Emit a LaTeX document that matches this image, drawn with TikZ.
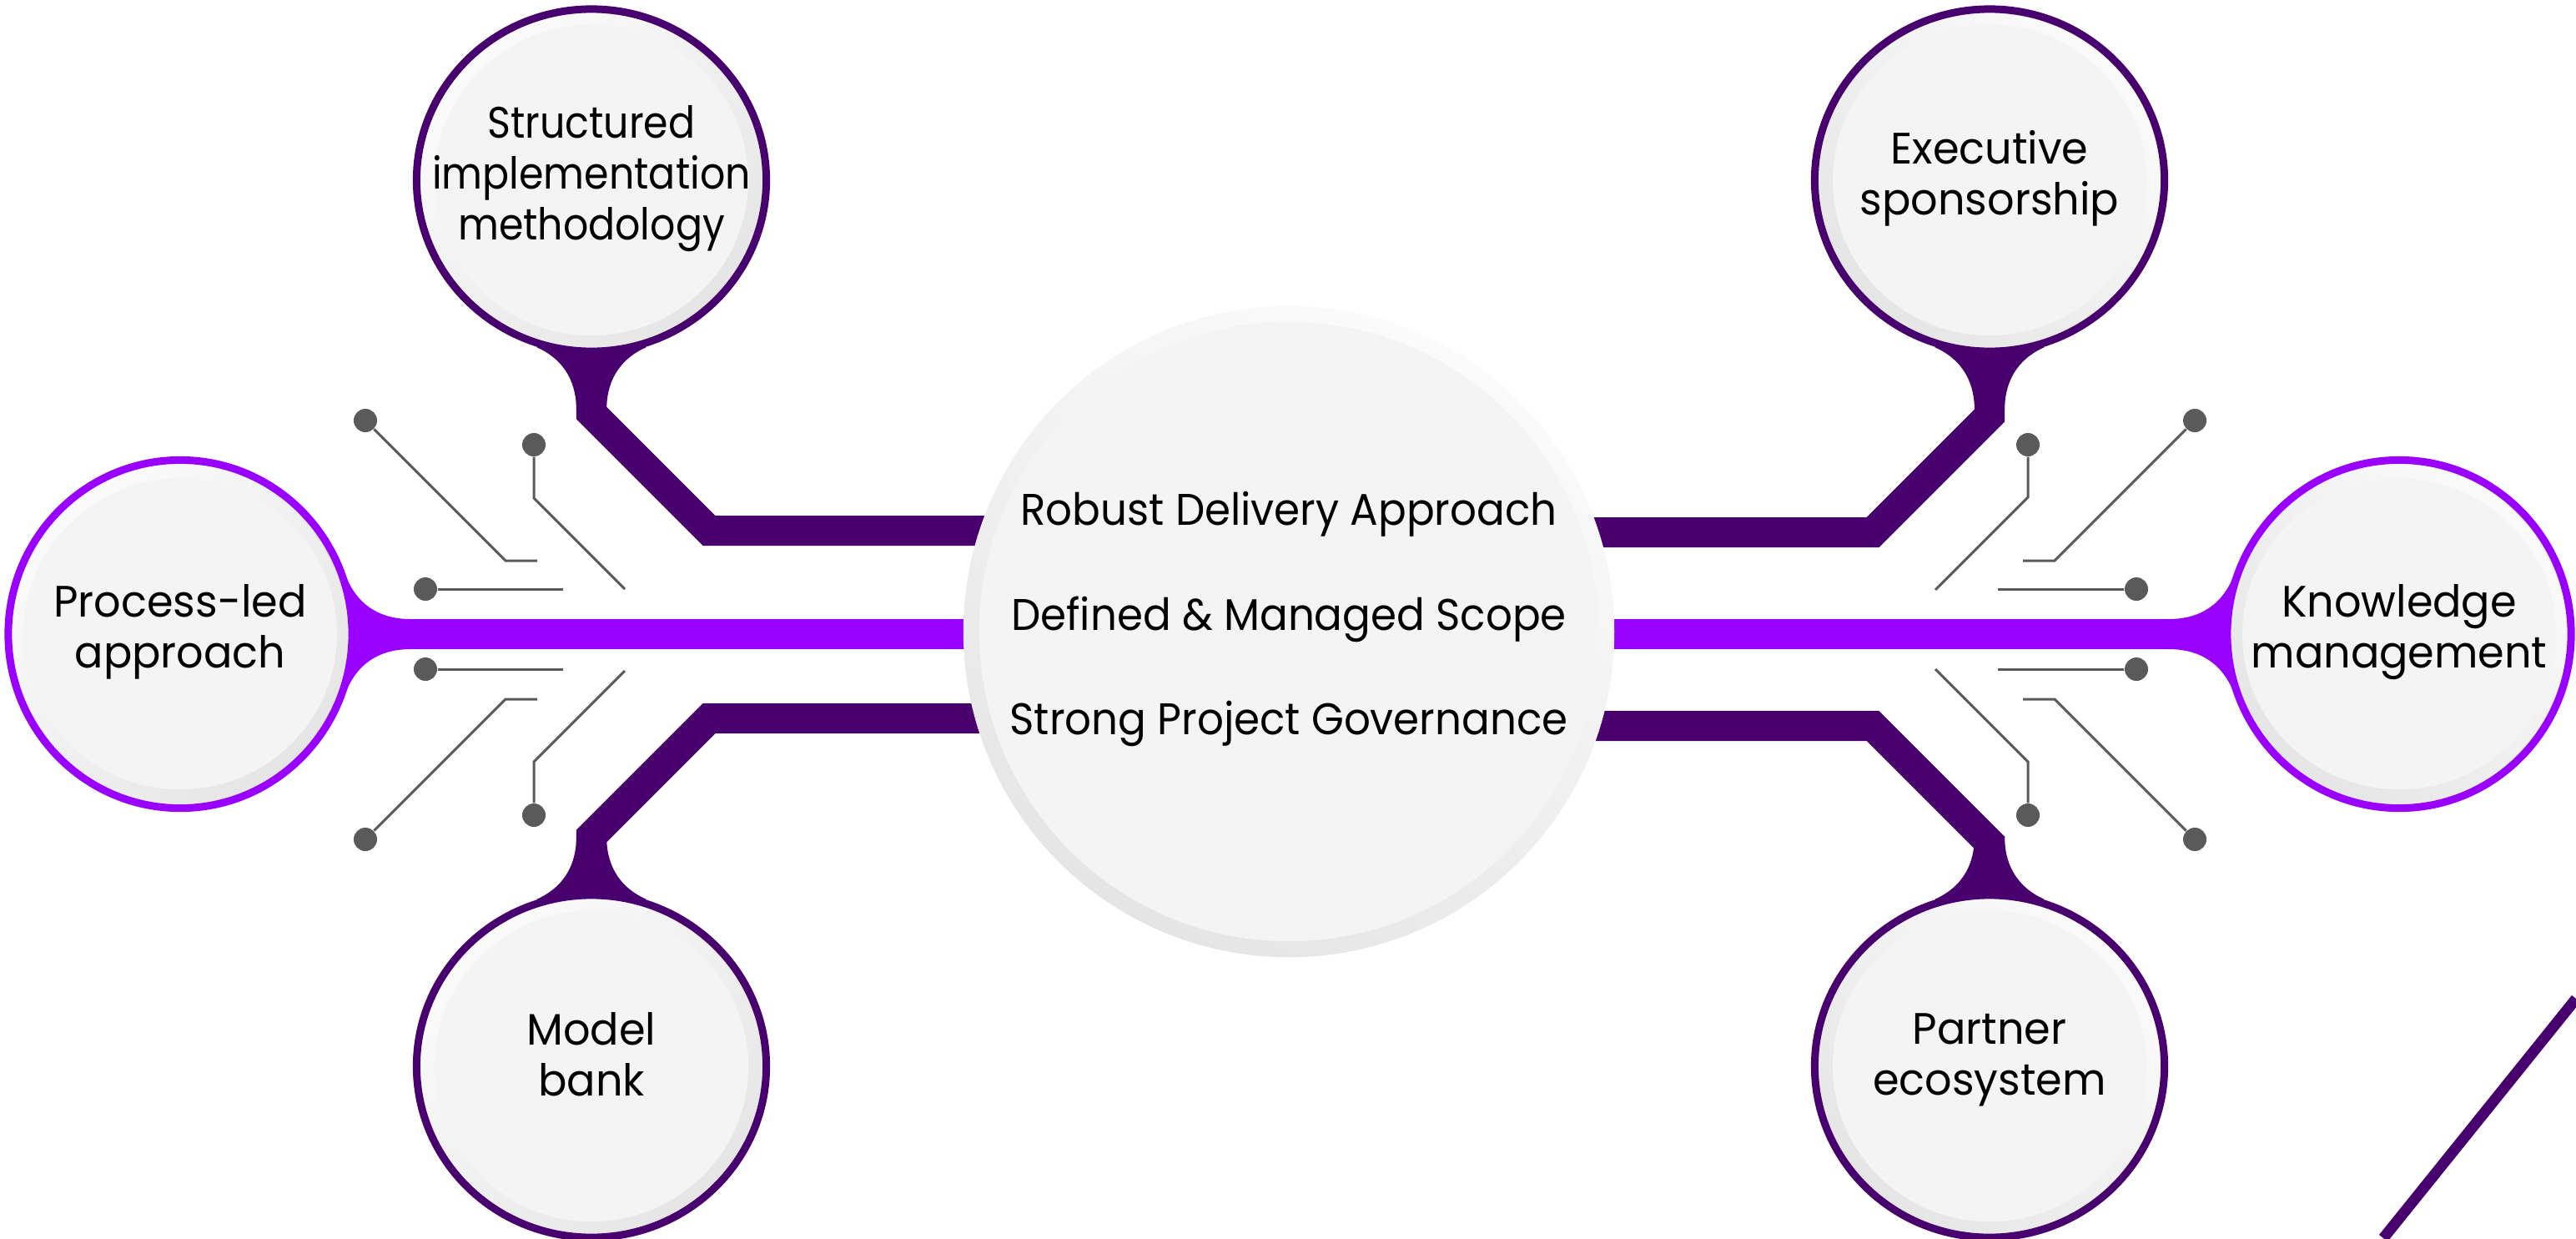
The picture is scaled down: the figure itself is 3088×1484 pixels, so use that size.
\documentclass[tikz,border=0pt]{standalone}
\usepackage{fontspec}
\setmainfont{Poppins}
\newfontfamily\bubblefont[FakeStretch=0.965]{Poppins}
\newfontfamily\tightfont[FakeStretch=0.90]{Poppins}
\newfontfamily\hubfont[FakeStretch=0.94]{Poppins}
\usepackage{xcolor}
\usetikzlibrary{backgrounds,shapes.geometric}

\definecolor{darkv}{HTML}{48006E}
\definecolor{brightv}{HTML}{9A00FF}
\definecolor{ringlo}{HTML}{E5E5E5}
\definecolor{ringhi}{HTML}{FBFBFB}
\definecolor{facegray}{HTML}{F4F4F4}
\definecolor{wiregray}{HTML}{5A5A5A}

\begin{document}
\begin{tikzpicture}[x=0.01cm, y=-0.01cm,
    bubble/.style={shape=ellipse, draw=#1, line width=0.09cm, inner sep=-1.5cm,
      minimum width=4.19cm, minimum height=4.10cm,
      top color=ringhi, bottom color=ringlo, shading angle=45,
      align=center, font=\bubblefont\fontsize{15}{17.4}\selectfont,
      execute at begin node={\rule{0pt}{13.6pt}},
      execute at end node={\rule[-5.2pt]{0pt}{5.2pt}},
      path picture={\fill[facegray] (path picture bounding box.center) ellipse (1.88cm and 1.86cm);}},
    upright/.style={minimum width=4.12cm, minimum height=4.17cm},
    lift/.style={execute at end node={\rule[-#1]{0pt}{#1}}},
    core/.style={shape=circle, minimum size=7.8cm, inner sep=0pt,
      top color=ringhi, bottom color=ringlo, shading angle=-30,
      path picture={\fill[facegray] (path picture bounding box.center) circle (3.71cm);}},
    darkbar/.style={draw=darkv, line width=0.36cm},
    midbar/.style={draw=brightv, line width=0.36cm},
    wire/.style={draw=wiregray, line width=0.03cm},
    pin/.style={shape=circle, fill=wiregray, minimum size=0.28cm, inner sep=0pt},
    neck/.pic={\fill[#1] (-66,200) .. controls (-30,216) and (-18,245) .. (-18,276)
      -- (18,276) .. controls (18,245) and (30,216) .. (66,200) -- cycle;}]
  \useasboundingbox (0,0) rectangle (3088,1484);

  % hub and the six topics
  \node[core] (core) at (1545,757) {};
  \node[font=\hubfont\fontsize{15.1}{35.8}\selectfont, align=center] (pillars) at (1545,742)
    {Robust Delivery Approach\\Defined \& Managed Scope\\Strong Project Governance};

  \node[bubble=darkv, font=\tightfont\fontsize{15}{17.4}\selectfont] (struct) at (709,216)
    {Structured\\implementation\\methodology};
  \node[bubble=brightv, upright] (proc) at (216,760) {Process-led\\approach};
  \node[bubble=darkv, lift=8.4pt] (model) at (709,1278) {Model\\bank};
  \node[bubble=darkv, shading angle=-45] (exec) at (2385,216) {Executive\\sponsorship};
  \node[bubble=brightv, shading angle=-45, upright] (know) at (2876,760) {Knowledge\\management};
  \node[bubble=darkv, shading angle=-45, lift=8.4pt] (partner) at (2385,1278) {Partner\\ecosystem};

  \begin{scope}[on background layer]
    \draw[midbar] (proc) -- (know);
    \draw[darkbar] (struct.center) -- ++(0,279) -- ++(141,141) coordinate (ulk) -- (ulk -| core.center);
    \draw[darkbar] (model.center) -- ++(0,-276) -- ++(141,-141) coordinate (llk) -- (llk -| core.center);
    \draw[darkbar] (exec.center) -- ++(0,282) -- ++(-140,140) coordinate (urk) -- (urk -| core.center);
    \draw[darkbar] (partner.center) -- ++(0,-268) -- ++(-140,-140) coordinate (lrk) -- (lrk -| core.center);
    \pic at (struct) {neck=darkv};
    \pic[rotate=180] at (model) {neck=darkv};
    \pic at (exec) {neck=darkv};
    \pic[rotate=180] at (partner) {neck=darkv};
    \pic[rotate=90] at (proc) {neck=brightv};
    \pic[rotate=-90] at (know) {neck=brightv};
  \end{scope}

  % circuit traces, left
  \node[pin] (l1) at (438,504) {};
  \node[pin] (l2) at (640,533) {};
  \node[pin] (l3) at (510,706) {};
  \node[pin] (l4) at (510,802) {};
  \node[pin] (l5) at (438,1006) {};
  \node[pin] (l6) at (640,977) {};
  \draw[wire] (l1) -- ++(168,168) -- ++(38,0);
  \draw[wire] (l2) -- ++(0,64) -- ++(109,109);
  \draw[wire] (l3) -- ++(165,0);
  \draw[wire] (l4) -- ++(165,0);
  \draw[wire] (l5) -- ++(168,-168) -- ++(38,0);
  \draw[wire] (l6) -- ++(0,-64) -- ++(109,-109);

  % circuit traces, right
  \node[pin] (r1) at (2631,504) {};
  \node[pin] (r2) at (2431,533) {};
  \node[pin] (r3) at (2561,706) {};
  \node[pin] (r4) at (2561,802) {};
  \node[pin] (r5) at (2631,1006) {};
  \node[pin] (r6) at (2431,977) {};
  \draw[wire] (r1) -- ++(-168,168) -- ++(-38,0);
  \draw[wire] (r2) -- ++(0,63) -- ++(-111,111);
  \draw[wire] (r3) -- ++(-166,0);
  \draw[wire] (r4) -- ++(-166,0);
  \draw[wire] (r5) -- ++(-168,-168) -- ++(-38,0);
  \draw[wire] (r6) -- ++(0,-64) -- ++(-111,-111);

  \draw[darkv, line width=0.13cm] (3088,1197) -- (2857,1484);
\end{tikzpicture}
\end{document}
